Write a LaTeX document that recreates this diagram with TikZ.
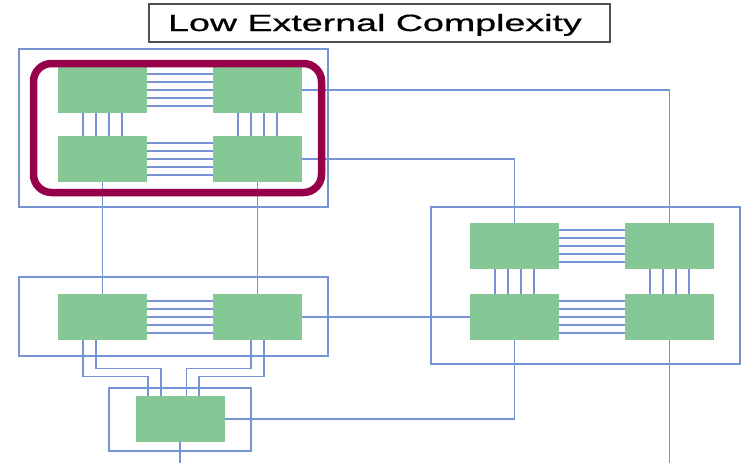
\documentclass[tikz,border=0pt]{standalone}
\usepackage{fontspec}
\usepackage{graphicx}
\setmainfont{Liberation Sans}
\newfontfamily\headfont[FakeBold=0.6]{Liberation Sans}
\definecolor{unitgreen}{RGB}{134,199,150}
\definecolor{wireblue}{RGB}{118,148,212}
\definecolor{rimred}{RGB}{150,0,72}
\definecolor{titlegray}{RGB}{80,80,80}
\tikzset{
  unit/.style={fill=unitgreen, draw=none, inner sep=0pt,
    minimum width=89pt, minimum height=46pt},
  wire/.style={draw=wireblue, line width=1.1pt},
  frame/.style={draw=wireblue, line width=1.1pt},
  rim/.style={draw=rimred, line width=7.5pt, rounded corners=18pt},
}
\begin{document}
\begin{tikzpicture}[x=1pt, y=-1pt]
\useasboundingbox (0,0) rectangle (744,463);
\fill[white] (0,0) rectangle (744,463);

% title
\draw[titlegray, line width=1.1pt] (149,4) rectangle (610,42);
\node[anchor=base, inner sep=0pt, font=\headfont\fontsize{23.5}{27}\selectfont] (title) at (375,31)
  {\scalebox{1.6}[1]{Low External Complexity}};

% outer frames
\draw[frame] (19,49) rectangle (328,207);
\draw[frame] (19,277) rectangle (328,356);
\draw[frame] (109,388) rectangle (251,451);
\draw[frame] (431,207) rectangle (740,364);

% units
\node[unit] (a1) at (102.5,90) {};
\node[unit] (a2) at (257.5,90) {};
\node[unit] (a3) at (102.5,159) {};
\node[unit] (a4) at (257.5,159) {};
\node[unit] (m1) at (102.5,317) {};
\node[unit] (m2) at (257.5,317) {};
\node[unit] (bx) at (180,419) {};
\node[unit] (r1) at (514.5,246) {};
\node[unit] (r2) at (669.5,246) {};
\node[unit] (r3) at (514.5,317) {};
\node[unit] (r4) at (669.5,317) {};

\coordinate (outA) at (180,463);
\coordinate (outB) at (669.5,463);

% horizontal buses (five lines each)
\foreach \p/\q in {a1/a2, a3/a4, m1/m2, r1/r2, r3/r4}
  \foreach \d in {-16,-8,0,8,16}
    \draw[wire] ([yshift=\d pt]\p.east) -- ([yshift=\d pt]\q.west);

% vertical buses (four lines each)
\foreach \p/\q in {a1/a3, a2/a4, r1/r3, r2/r4}
  \foreach \d in {-19.5,-6.5,6.5,19.5}
    \draw[wire] ([xshift=\d pt]\p.south) -- ([xshift=\d pt]\q.north);

% links between groups
\draw[wire] (a2.east) -| (r2.north);
\draw[wire] (a4.east) -| (r1.north);
\draw[wire] (a3.south) -- (m1.north);
\draw[wire] (a4.south) -- (m2.north);
\draw[wire] (m2.east) -- (r3.west);
\draw[wire] (bx.east) -| (r3.south);
\draw[wire] (bx.south) -- (outA);
\draw[wire] (r4.south) -- (outB);

% links from the middle pair down to the lower unit
\draw[wire] ([xshift=-19.5pt]m1.south) -- ++(0,36) -| ([xshift=-32pt]bx.north);
\draw[wire] ([xshift=-6.5pt]m1.south) -- ++(0,28) -| ([xshift=-19pt]bx.north);
\draw[wire] ([xshift=-6.5pt]m2.south) -- ++(0,28) -| ([xshift=6.5pt]bx.north);
\draw[wire] ([xshift=6.5pt]m2.south) -- ++(0,36) -| ([xshift=19pt]bx.north);

% highlight around the upper-left group
\draw[rim] (33.5,63.5) rectangle (321.5,192.5);
\end{tikzpicture}
\end{document}
